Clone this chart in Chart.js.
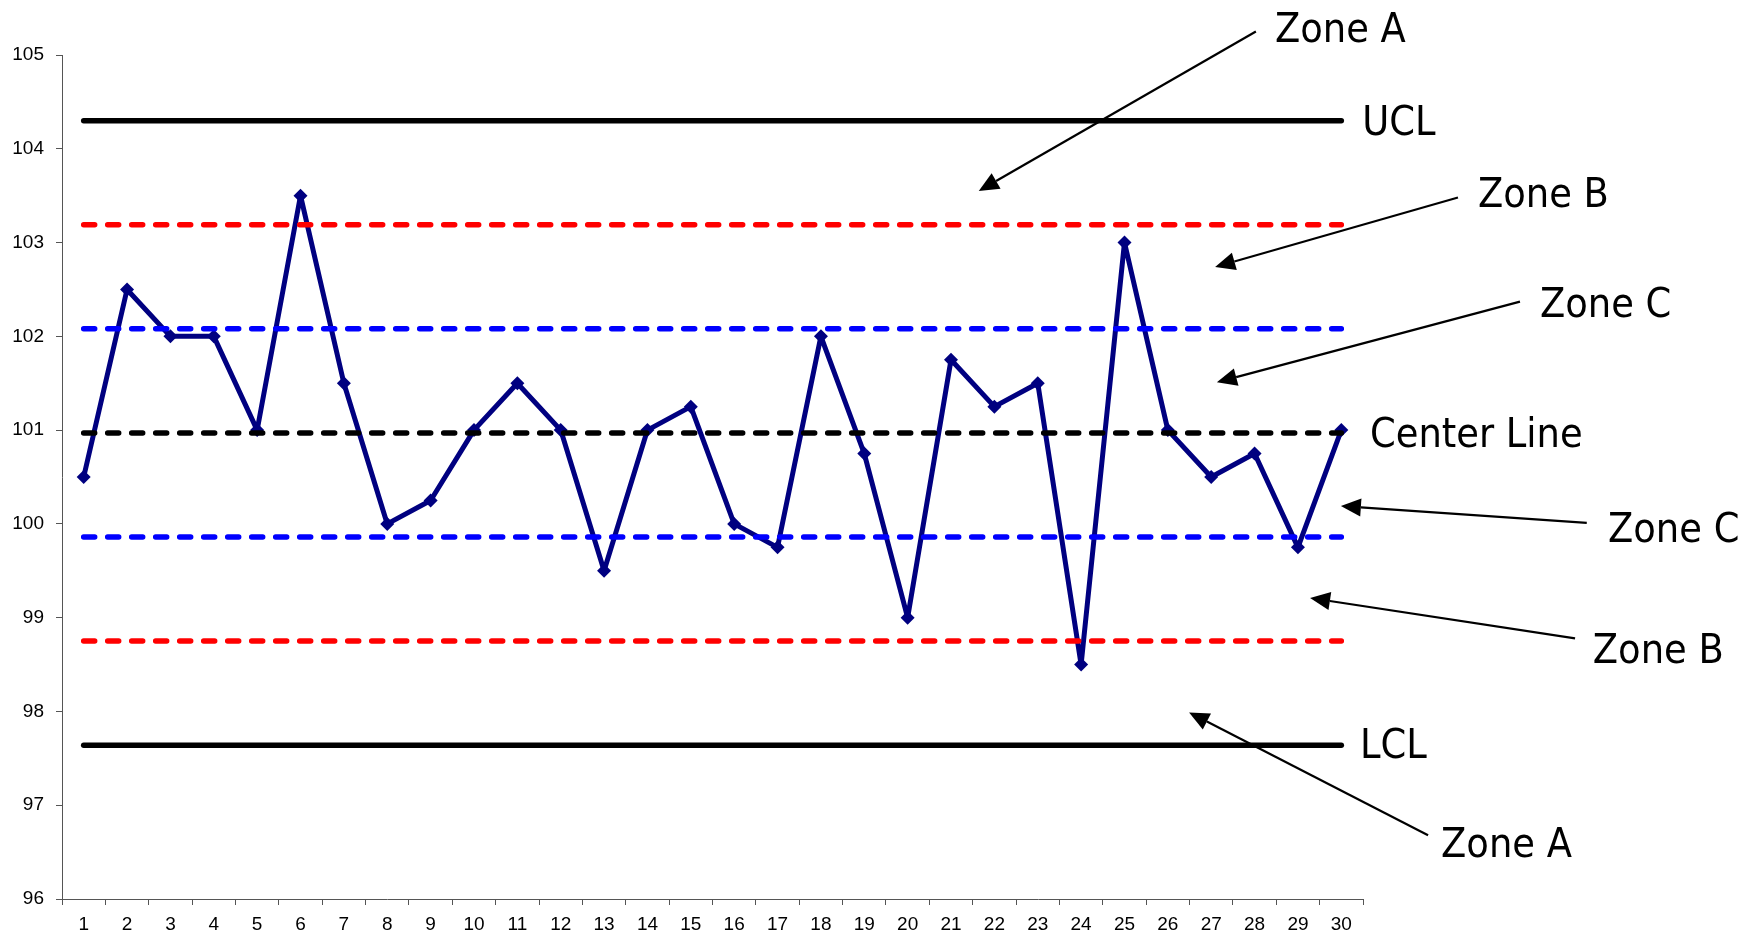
<!DOCTYPE html>
<html>
<head>
<meta charset="utf-8">
<title>Control Chart</title>
<script src="https://cdn.jsdelivr.net/npm/chart.js@4/dist/chart.umd.min.js"></script>
<style>
  body { margin: 0; background: #fff; }
</style>
</head>
<body>
<canvas id="controlChart" width="1752" height="933"></canvas>
<script>
let samples = ["1","2","3","4","5","6","7","8","9","10","11","12","13","14","15",
               "16","17","18","19","20","21","22","23","24","25","26","27","28","29","30"];
let measurements = [100.5, 102.5, 102, 102, 101, 103.5, 101.5, 100, 100.25, 101,
                    101.5, 101, 99.5, 101, 101.25, 100, 99.75, 102, 100.75, 99,
                    101.75, 101.25, 101.5, 98.5, 103, 101, 100.5, 100.75, 99.75, 101];

// control limits
let ucl = 104.3;
let upperB = 103.19;
let upperC = 102.08;
let centerValue = 100.97;
let lowerC = 99.86;
let lowerB = 98.75;
let lcl = 97.64;

let yTicks = [96, 105];

// annotation text: [label, category position, value at baseline]
let zoneLabels = [
    ["Zone A", 27.47, 105.14],
    ["UCL", 29.48, 104.15],
    ["Zone B", 32.15, 103.38],
    ["Zone C", 33.58, 102.21],
    ["Center Line", 29.66, 100.82],
    ["Zone C", 35.15, 99.81],
    ["Zone B", 34.80, 98.52],
    ["LCL", 29.43, 97.50],
    ["Zone A", 31.30, 96.45]
];

// arrows: [from category, from value, to category, to value]
let zoneArrows = [
    [27.03, 105.25, 20.64, 103.55],
    [31.69, 103.48, 26.09, 102.74],
    [33.12, 102.37, 26.13, 101.51],
    [34.66, 100.01, 28.99, 100.19],
    [34.39, 98.78, 28.28, 99.21],
    [31.00, 96.68, 25.49, 97.99]
];

function flatLine(value) {
    return samples.map(() => value);
}

function limitDataset(value, color, dashed) {
    return {
        data: flatLine(value),
        borderColor: color,
        borderWidth: 5.5,
        borderDash: dashed ? [11, 13] : [],
        borderCapStyle: "round",
        pointRadius: 0,
        pointHoverRadius: 0,
        fill: false,
        order: 0
    };
}

const annotationPlugin = {
    id: "zoneAnnotations",
    afterDraw(chart) {
        const ctx = chart.ctx;
        const x = chart.scales.x;
        const y = chart.scales.y;
        ctx.save();
        ctx.fillStyle = "#000";
        ctx.font = "41px 'DejaVu Sans Condensed', 'DejaVu Sans', sans-serif";
        ctx.textAlign = "left";
        ctx.textBaseline = "alphabetic";
        zoneLabels.forEach(([text, cx, cy]) => {
            ctx.fillText(text, x.getPixelForValue(cx), y.getPixelForValue(cy));
        });

        ctx.strokeStyle = "#000";
        ctx.lineWidth = 2.2;
        zoneArrows.forEach(([fx, fy, tx, ty]) => {
            const x1 = x.getPixelForValue(fx), y1 = y.getPixelForValue(fy);
            const x2 = x.getPixelForValue(tx), y2 = y.getPixelForValue(ty);
            const angle = Math.atan2(y2 - y1, x2 - x1);
            const headLen = 20, headHalf = 9;
            const bx = x2 - headLen * Math.cos(angle);
            const by = y2 - headLen * Math.sin(angle);
            ctx.beginPath();
            ctx.moveTo(x1, y1);
            ctx.lineTo(bx, by);
            ctx.stroke();
            ctx.beginPath();
            ctx.moveTo(x2, y2);
            ctx.lineTo(bx + headHalf * Math.sin(angle), by - headHalf * Math.cos(angle));
            ctx.lineTo(bx - headHalf * Math.sin(angle), by + headHalf * Math.cos(angle));
            ctx.closePath();
            ctx.fill();
        });
        ctx.restore();
    }
};

const chartCtx = document.querySelector("#controlChart").getContext("2d");

new Chart(chartCtx, {
    type: "line",
    data: {
        labels: samples,
        datasets: [
            limitDataset(ucl, "#000000", false),
            limitDataset(upperB, "#ff0000", true),
            limitDataset(upperC, "#0000ff", true),
            limitDataset(centerValue, "#000000", true),
            limitDataset(lowerC, "#0000ff", true),
            limitDataset(lowerB, "#ff0000", true),
            limitDataset(lcl, "#000000", false),
            {
                data: measurements,
                borderColor: "#000080",
                backgroundColor: "#000080",
                borderWidth: 5,
                borderJoinStyle: "round",
                pointStyle: "rectRot",
                pointRadius: 7,
                pointBorderWidth: 0,
                tension: 0,
                fill: false,
                order: 1
            }
        ]
    },
    options: {
        responsive: false,
        animation: false,
        layout: {
            padding: { top: 55, right: 389, bottom: 0, left: 0 }
        },
        plugins: {
            legend: { display: false },
            tooltip: { enabled: false }
        },
        scales: {
            x: {
                offset: true,
                afterFit(scale) { scale.height = 34; },
                grid: {
                    display: true,
                    offset: true,
                    drawOnChartArea: false,
                    drawTicks: true,
                    tickLength: 6,
                    color: "#555"
                },
                border: { display: true, color: "#555", width: 1 },
                ticks: {
                    color: "#000",
                    padding: 8,
                    maxRotation: 0,
                    autoSkip: false,
                    font: { family: "'Liberation Sans', Arial, sans-serif", size: 19 }
                }
            },
            y: {
                min: yTicks[0],
                max: yTicks[1],
                afterFit(scale) { scale.width = 62; },
                grid: {
                    display: true,
                    drawOnChartArea: false,
                    drawTicks: true,
                    tickLength: 6,
                    color: "#555"
                },
                border: { display: true, color: "#555", width: 1 },
                ticks: {
                    stepSize: 1,
                    color: "#000",
                    padding: 12,
                    font: { family: "'Liberation Sans', Arial, sans-serif", size: 19 }
                }
            }
        }
    },
    plugins: [annotationPlugin]
});
</script>
</body>
</html>
